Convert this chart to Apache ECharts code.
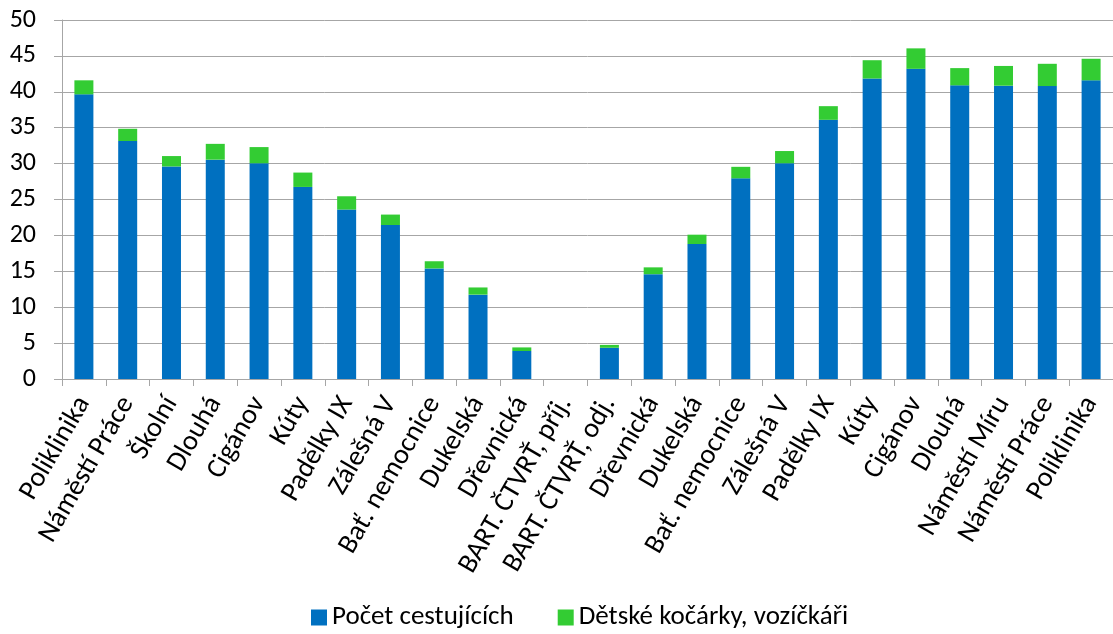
<!DOCTYPE html>
<html>
<head>
<meta charset="utf-8">
<script src="https://cdn.jsdelivr.net/npm/echarts@6/dist/echarts.min.js"></script>
<style>html,body{margin:0;padding:0;background:#fff}#c{width:1113px;height:634px}</style>
</head>
<body>
<div id="c"></div>
<script>
var categories = ["Poliklinika","Náměstí Práce","Školní","Dlouhá","Cigánov","Kúty","Padělky IX","Zálešná V","Bať. nemocnice","Dukelská","Dřevnická","BART. ČTVRŤ, příj.","BART. ČTVRŤ, odj.","Dřevnická","Dukelská","Bať. nemocnice","Zálešná V","Padělky IX","Kúty","Cigánov","Dlouhá","Náměstí Míru","Náměstí Práce","Poliklinika"];
var passengers = [39.65,33.15,29.6,30.55,30.05,26.75,23.6,21.45,15.4,11.75,3.9,0,4.35,14.6,18.8,27.95,30.05,36.1,41.85,43.2,40.9,40.85,40.8,41.6];
var strollers = [1.95,1.7,1.45,2.2,2.25,2.0,1.85,1.45,1.0,1.0,0.5,0,0.4,0.95,1.3,1.6,1.7,1.9,2.55,2.85,2.4,2.75,3.1,3.0];
var yTicks = [0,5,10,15,20,25,30,35,40,45,50];
var seriesNames = ["Počet cestujících","Dětské kočárky, vozíčkáři"];

var FONT = "Carlito, Calibri, Lato, sans-serif";
var chart = echarts.init(document.getElementById('c'), null, {renderer:'canvas'});
chart.setOption({
  animation:false,
  textStyle:{fontFamily:FONT},
  grid:{left:62,right:0,top:20,bottom:255,containLabel:false},
  legend:{
    left:306,top:599,itemGap:44,itemWidth:16,itemHeight:16,icon:'rect',
    textStyle:{fontFamily:FONT,fontSize:27,color:'#000'},
    data:seriesNames
  },
  xAxis:{
    type:'category',data:categories,
    axisLine:{lineStyle:{color:'#a6a6a6',width:1}},
    axisTick:{show:true,length:7,lineStyle:{color:'#a6a6a6'}},
    axisLabel:{rotate:60,interval:0,margin:20,fontFamily:FONT,fontSize:28,color:'#000'}
  },
  yAxis:{
    type:'value',min:yTicks[0],max:yTicks[yTicks.length-1],interval:5,
    axisLine:{show:true,lineStyle:{color:'#a6a6a6'}},
    axisTick:{show:true,inside:false,length:8,lineStyle:{color:'#a6a6a6'}},
    splitLine:{lineStyle:{color:'#a6a6a6',width:1}},
    axisLabel:{margin:26,fontFamily:FONT,fontSize:26,color:'#000'}
  },
  series:[
    {name:seriesNames[0],type:'bar',stack:'a',data:passengers,barWidth:19,itemStyle:{color:'#0070C0'}},
    {name:seriesNames[1],type:'bar',stack:'a',data:strollers,barWidth:19,itemStyle:{color:'#33CC33'}}
  ]
});
</script>
</body>
</html>
